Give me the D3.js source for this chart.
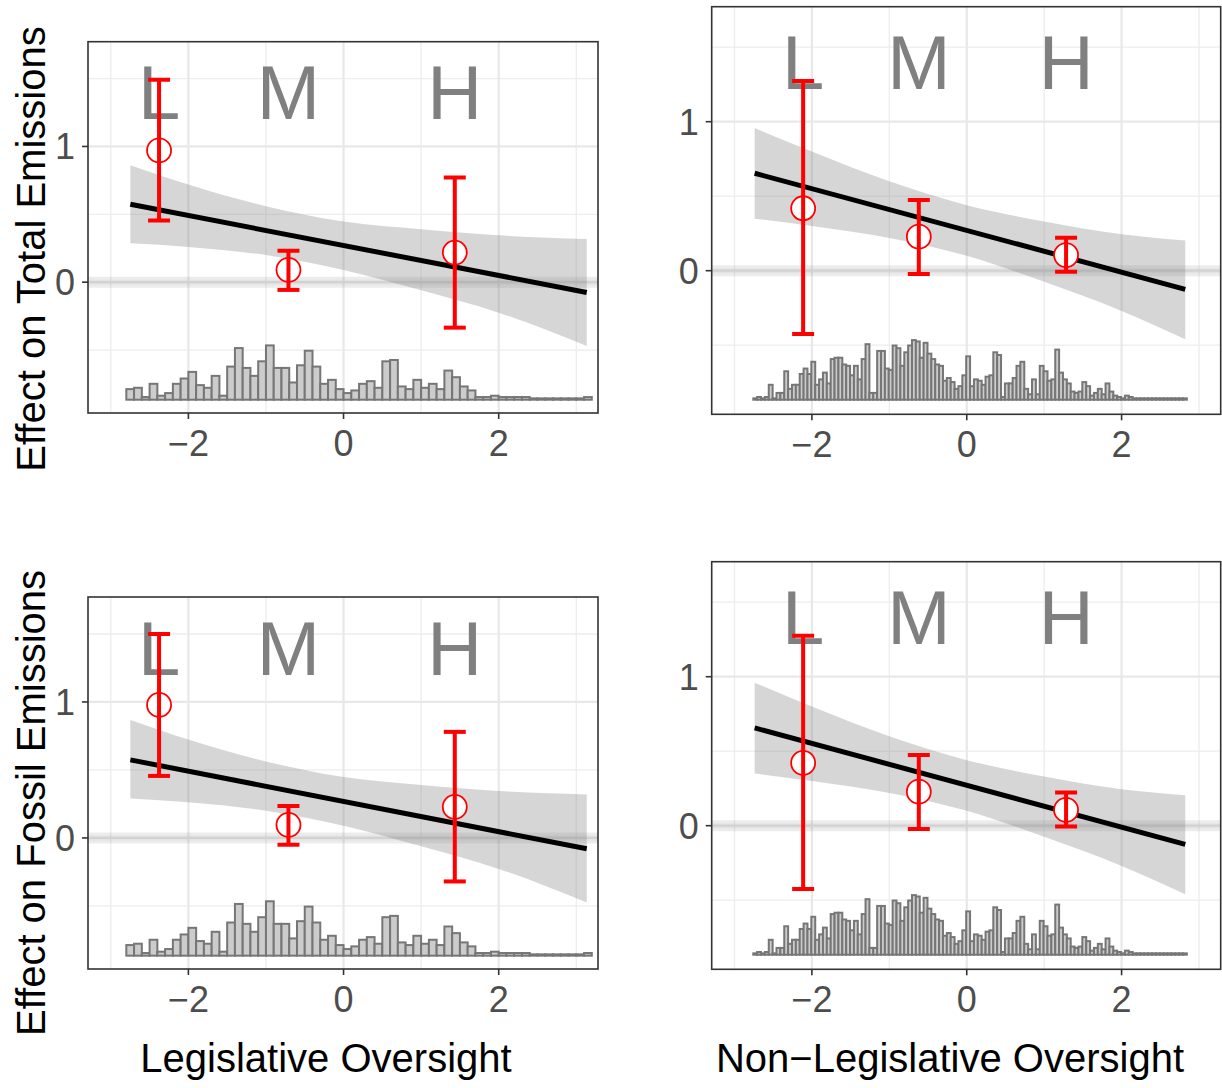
<!DOCTYPE html>
<html>
<head>
<meta charset="utf-8">
<script src="https://cdn.jsdelivr.net/npm/d3@7/dist/d3.min.js"></script>
<style>
  html, body { margin: 0; padding: 0; background: #ffffff; }
  svg { display: block; }
  text { font-family: "Liberation Sans", Arial, Helvetica, sans-serif; }
</style>
</head>
<body>
<div id="chart"></div>
<script>
// ---- shared axis settings ----
const xTicks = [-2, 0, 2];
const xMinorTicks = [-3, -1, 1, 3];
const yTicks = [0, 1];
const yMinorTicks = [-0.5, 0.5, 1.5];
const xDomain = [-3.294, 3.28];
const yDomain = [-0.964, 1.772];
const binLabels = ["L", "M", "H"];

// ---- legislative oversight (moderator) ----
const legisBinX = [-2.378, -0.71, 1.434];
const legisLineX = [-2.748, 3.135];
const legisBandX = [-2.748, -2, -1, 0, 1, 2, 3.135];
// histogram of the moderator: counts per 0.1-wide bin starting at -2.8
const legisHistStart = -2.8;
const legisHistWidth = 0.1;
const legisCounts = [8, 9, 2, 12, 3, 5, 12, 16, 21, 11, 9, 18, 3, 25, 39, 24, 18, 29, 41, 24,
                     24, 13, 26, 37, 25, 12, 15, 8, 5, 7, 12, 14, 9, 29, 30, 10, 8, 15, 9, 12,
                     8, 22, 17, 10, 7, 2, 2, 3, 2, 2, 2, 2, 1, 1, 1, 1, 1, 1, 1, 2];

// total emissions ~ legislative oversight
const totLegEst = [0.971, 0.091, 0.218];
const totLegLo = [0.454, -0.057, -0.335];
const totLegHi = [1.492, 0.231, 0.771];
const totLegLine = [0.574, -0.076];
const totLegBandLo = [0.286, 0.26, 0.2, 0.09, -0.06, -0.225, -0.471];
const totLegBandHi = [0.862, 0.72, 0.56, 0.447, 0.39, 0.345, 0.319];

// fossil emissions ~ legislative oversight
const fosLegEst = [0.978, 0.096, 0.228];
const fosLegLo = [0.456, -0.05, -0.32];
const fosLegHi = [1.5, 0.235, 0.78];
const fosLegLine = [0.574, -0.08];
const fosLegBandLo = [0.29, 0.262, 0.2, 0.09, -0.062, -0.228, -0.475];
const fosLegBandHi = [0.868, 0.724, 0.562, 0.448, 0.39, 0.345, 0.32];

// ---- non-legislative oversight (moderator) ----
const nonBinX = [-2.113, -0.619, 1.283];
const nonLineX = [-2.739, 2.822];
const nonBandX = [-2.739, -2, -1, 0, 1, 2, 2.822];
// histogram of the moderator: counts per 0.05-wide bin starting at -2.757
const nonHistStart = -2.757;
const nonHistWidth = 0.05;
const nonCounts = [1, 2, 1, 2, 11, 1, 5, 5, 21, 8, 11, 11, 19, 23, 19, 28, 11, 15, 20, 12,
                   30, 31, 31, 26, 25, 18, 25, 15, 30, 41, 5, 5, 36, 36, 23, 22, 40, 38, 25, 35,
                   40, 44, 43, 31, 42, 34, 30, 26, 25, 14, 16, 13, 8, 10, 18, 32, 10, 15, 14, 11,
                   17, 18, 35, 33, 2, 12, 12, 16, 25, 28, 8, 4, 15, 4, 25, 21, 14, 15, 37, 20,
                   15, 12, 6, 5, 6, 13, 10, 3, 5, 8, 4, 12, 6, 3, 2, 1, 3, 2, 1, 1,
                   1, 1, 1, 1, 1, 1, 1, 1, 1, 1, 1, 1];

// total emissions ~ non-legislative oversight
const totNonEst = [0.419, 0.228, 0.105];
const totNonLo = [-0.425, -0.022, -0.007];
const totNonHi = [1.273, 0.474, 0.221];
const totNonLine = [0.654, -0.125];
const totNonBandLo = [0.349, 0.3, 0.22, 0.1, -0.075, -0.27, -0.46];
const totNonBandHi = [0.957, 0.8, 0.6, 0.44, 0.33, 0.245, 0.203];

// fossil emissions ~ non-legislative oversight
const fosNonEst = [0.421, 0.228, 0.106];
const fosNonLo = [-0.425, -0.022, -0.006];
const fosNonHi = [1.275, 0.474, 0.222];
const fosNonLine = [0.656, -0.125];
const fosNonBandLo = [0.35, 0.3, 0.22, 0.1, -0.075, -0.27, -0.46];
const fosNonBandHi = [0.96, 0.8, 0.6, 0.44, 0.33, 0.245, 0.205];

const yTitles = ["Effect on Total Emissions", "Effect on Fossil Emissions"];
const xTitles = ["Legislative Oversight", "Non\u2212Legislative Oversight"];

// ---- panel layout (pixel boxes) ----
const panels = [
  { box: [88, 598, 41.7, 413], binX: legisBinX, est: totLegEst, lo: totLegLo, hi: totLegHi,
    lineX: legisLineX, lineY: totLegLine, bandX: legisBandX, bandLo: totLegBandLo, bandHi: totLegBandHi,
    counts: legisCounts, hStart: legisHistStart, hWidth: legisHistWidth, labelY: 1.2 },
  { box: [711.7, 1220.7, 6.7, 414.3], binX: nonBinX, est: totNonEst, lo: totNonLo, hi: totNonHi,
    lineX: nonLineX, lineY: totNonLine, bandX: nonBandX, bandLo: totNonBandLo, bandHi: totNonBandHi,
    counts: nonCounts, hStart: nonHistStart, hWidth: nonHistWidth, labelY: 1.217 },
  { box: [88, 598, 597, 969], binX: legisBinX, est: fosLegEst, lo: fosLegLo, hi: fosLegHi,
    lineX: legisLineX, lineY: fosLegLine, bandX: legisBandX, bandLo: fosLegBandLo, bandHi: fosLegBandHi,
    counts: legisCounts, hStart: legisHistStart, hWidth: legisHistWidth, labelY: 1.2 },
  { box: [711.7, 1220.7, 561.7, 969.3], binX: nonBinX, est: fosNonEst, lo: fosNonLo, hi: fosNonHi,
    lineX: nonLineX, lineY: fosNonLine, bandX: nonBandX, bandLo: fosNonBandLo, bandHi: fosNonBandHi,
    counts: nonCounts, hStart: nonHistStart, hWidth: nonHistWidth, labelY: 1.217 }
];

const histBase = -0.866;   // histogram baseline on the effect scale
const histSpan = 0.4;      // tallest bar height on the effect scale

const svg = d3.select("#chart").append("svg")
  .attr("width", 1222).attr("height", 1088);

panels.forEach((p, k) => {
  const [x0, x1, y0, y1] = p.box;
  const x = d3.scaleLinear().domain(xDomain).range([x0, x1]);
  const y = d3.scaleLinear().domain(yDomain).range([y1, y0]);
  const g = svg.append("g");

  const clipId = "clip" + k;
  svg.append("clipPath").attr("id", clipId)
    .append("rect").attr("x", x0).attr("y", y0).attr("width", x1 - x0).attr("height", y1 - y0);
  const inner = g.append("g").attr("clip-path", `url(#${clipId})`);

  // grid
  inner.selectAll(".gxm").data(xMinorTicks).join("line")
    .attr("x1", d => x(d)).attr("x2", d => x(d)).attr("y1", y0).attr("y2", y1)
    .attr("stroke", "#ededed").attr("stroke-width", 1.3);
  inner.selectAll(".gym").data(yMinorTicks).join("line")
    .attr("x1", x0).attr("x2", x1).attr("y1", d => y(d)).attr("y2", d => y(d))
    .attr("stroke", "#ededed").attr("stroke-width", 1.3);
  inner.selectAll(".gx").data(xTicks).join("line")
    .attr("x1", d => x(d)).attr("x2", d => x(d)).attr("y1", y0).attr("y2", y1)
    .attr("stroke", "#e8e8e8").attr("stroke-width", 2.2);
  inner.selectAll(".gy").data(yTicks).join("line")
    .attr("x1", x0).attr("x2", x1).attr("y1", d => y(d)).attr("y2", d => y(d))
    .attr("stroke", "#e8e8e8").attr("stroke-width", 2.2);

  // zero reference
  inner.append("line").attr("x1", x0).attr("x2", x1).attr("y1", y(0)).attr("y2", y(0))
    .attr("stroke", "#888").attr("stroke-opacity", 0.16).attr("stroke-width", 11);
  inner.append("line").attr("x1", x0).attr("x2", x1).attr("y1", y(0)).attr("y2", y(0))
    .attr("stroke", "#888").attr("stroke-opacity", 0.08).attr("stroke-width", 5);

  // bin labels
  inner.selectAll(".lab").data(binLabels).join("text")
    .attr("x", (d, i) => x(p.binX[i])).attr("y", y(p.labelY))
    .attr("text-anchor", "middle").attr("font-size", 76)
    .attr("fill", "#808080").text(d => d);

  // histogram of the moderator
  const hs = d3.scaleLinear().domain([0, d3.max(p.counts)]).range([histBase, histBase + histSpan]);
  inner.selectAll(".bar").data(p.counts).join("rect")
    .attr("x", (d, i) => x(p.hStart + i * p.hWidth))
    .attr("width", (d, i) => x(p.hStart + (i + 1) * p.hWidth) - x(p.hStart + i * p.hWidth))
    .attr("y", d => y(hs(d)))
    .attr("height", d => y(histBase) - y(hs(d)))
    .attr("fill", "#cccccc").attr("stroke", "#767676").attr("stroke-width", 2);

  // confidence band of the linear marginal effect
  const bandData = p.bandX.map((v, i) => ({ x: v, lo: p.bandLo[i], hi: p.bandHi[i] }));
  inner.append("path").datum(bandData)
    .attr("d", d3.area().x(d => x(d.x)).y0(d => y(d.lo)).y1(d => y(d.hi)).curve(d3.curveMonotoneX))
    .attr("fill", "#808080").attr("fill-opacity", 0.32);

  // linear marginal effect
  const lineData = p.lineX.map((v, i) => ({ x: v, y: p.lineY[i] }));
  inner.append("path").datum(lineData)
    .attr("d", d3.line().x(d => x(d.x)).y(d => y(d.y)))
    .attr("stroke", "#000").attr("stroke-width", 5).attr("fill", "none");

  // binned estimates
  const bins = p.binX.map((v, i) => ({ x: v, est: p.est[i], lo: p.lo[i], hi: p.hi[i] }));
  inner.selectAll(".pt").data(bins).join("circle")
    .attr("cx", d => x(d.x)).attr("cy", d => y(d.est)).attr("r", 12)
    .attr("fill", "#fff").attr("stroke", "#ff0000").attr("stroke-width", 1.8);
  const eb = inner.selectAll(".eb").data(bins).join("g").attr("stroke", "#ff0000").attr("stroke-width", 4);
  eb.append("line").attr("x1", d => x(d.x)).attr("x2", d => x(d.x))
    .attr("y1", d => y(d.lo)).attr("y2", d => y(d.hi));
  eb.append("line").attr("x1", d => x(d.x) - 11).attr("x2", d => x(d.x) + 11)
    .attr("y1", d => y(d.lo)).attr("y2", d => y(d.lo));
  eb.append("line").attr("x1", d => x(d.x) - 11).attr("x2", d => x(d.x) + 11)
    .attr("y1", d => y(d.hi)).attr("y2", d => y(d.hi));

  // panel border
  g.append("rect").attr("x", x0).attr("y", y0).attr("width", x1 - x0).attr("height", y1 - y0)
    .attr("fill", "none").attr("stroke", "#333").attr("stroke-width", 1.6);

  // axes ticks and labels
  g.selectAll(".xt").data(xTicks).join("line")
    .attr("x1", d => x(d)).attr("x2", d => x(d)).attr("y1", y1).attr("y2", y1 + 6)
    .attr("stroke", "#333").attr("stroke-width", 1.6);
  g.selectAll(".xtl").data(xTicks).join("text")
    .attr("x", d => x(d)).attr("y", y1 + 43).attr("text-anchor", "middle")
    .attr("font-size", 36).attr("fill", "#4d4d4d")
    .text(d => d < 0 ? "\u2212" + Math.abs(d) : String(d));
  g.selectAll(".yt").data(yTicks).join("line")
    .attr("x1", x0 - 6).attr("x2", x0).attr("y1", d => y(d)).attr("y2", d => y(d))
    .attr("stroke", "#333").attr("stroke-width", 1.6);
  g.selectAll(".ytl").data(yTicks).join("text")
    .attr("x", x0 - 13).attr("y", d => y(d)).attr("dy", "0.36em").attr("text-anchor", "end")
    .attr("font-size", 36).attr("fill", "#4d4d4d").text(d => String(d));
});

// axis titles
svg.selectAll(".ytitle").data(yTitles).join("text")
  .attr("transform", (d, i) => `translate(45,${i === 0 ? 249 : 803}) rotate(-90)`)
  .attr("text-anchor", "middle").attr("font-size", 40).attr("fill", "#000").text(d => d);
svg.selectAll(".xtitle").data(xTitles).join("text")
  .attr("x", (d, i) => i === 0 ? 326 : 950).attr("y", 1072)
  .attr("text-anchor", "middle").attr("font-size", 40).attr("fill", "#000").text(d => d);
</script>
</body>
</html>
